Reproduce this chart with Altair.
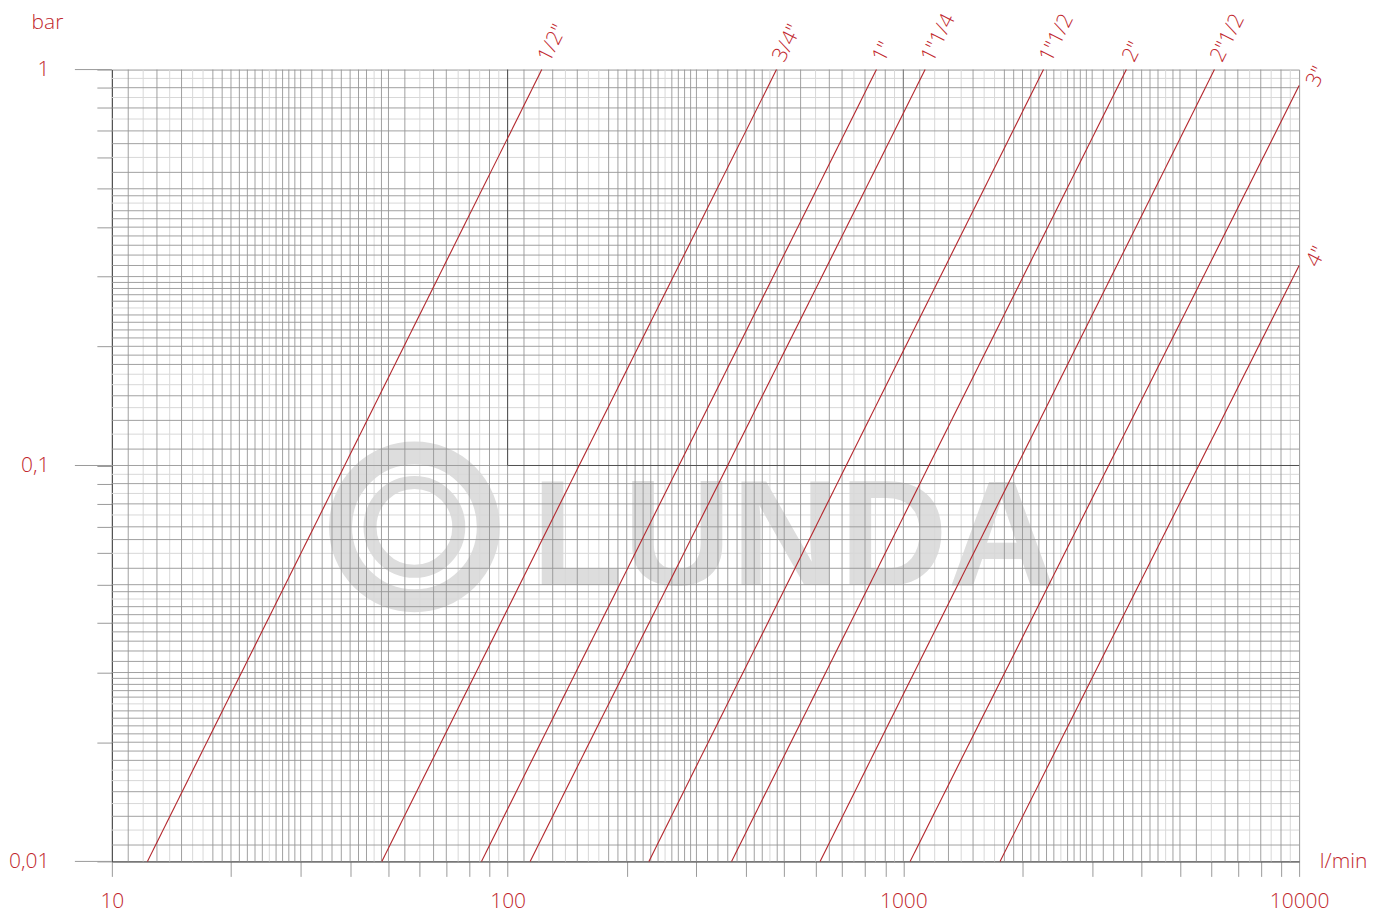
import altair as alt
import pandas as pd

W, H = 1189, 793
RED = "#c1272d"
LINE_RED = "#b3262c"
FONT = "Open Sans"
FW = 300

# ---- data (flow l/min, pressure drop bar) ----
sizes = ['1/2"', '3/4"', '1"', '1"1/4', '1"1/2', '2"', '2"1/2', '3"', '4"']
q_start = [12.3, 48.1, 85.9, 114, 227.5, 368, 616, 1040, 1755]
p_start = [0.01, 0.01, 0.01, 0.01, 0.01, 0.01, 0.01, 0.01, 0.01]
q_end = [122, 478, 855, 1135, 2260, 3660, 6110, 10000, 10000]
p_end = [1, 1, 1, 1, 1, 1, 1, 0.911, 0.32]
label_side = ["top", "top", "top", "top", "top", "top", "top", "right", "right"]

# axis ticks
x_ticks = [10, 20, 30, 40, 50, 60, 70, 80, 90,
           100, 200, 300, 400, 500, 600, 700, 800, 900,
           1000, 2000, 3000, 4000, 5000, 6000, 7000, 8000, 9000, 10000]
y_ticks = [0.01, 0.02, 0.03, 0.04, 0.05, 0.06, 0.07, 0.08, 0.09,
           0.1, 0.2, 0.3, 0.4, 0.5, 0.6, 0.7, 0.8, 0.9, 1]
y_major = [0.01, 0.1, 1]

# log-paper grid mantissas per decade
mant_dark = [1.1, 1.3, 1.5, 1.8, 1.9, 2.0, 2.1, 2.2, 2.3, 2.4, 2.6, 2.7,
             2.8, 2.9, 3.0, 3.2, 3.4, 3.6, 3.8, 4.0, 4.2, 4.4, 4.8, 5.0,
             5.5, 6.5, 7.0, 8.0, 9.0]
mant_light = [1.2, 1.4, 1.6, 1.7, 2.5, 4.6, 6.0, 7.5, 8.5, 9.5]
x_decades = [10, 100, 1000]
y_decades = [0.01, 0.1]

xg_dark = [round(m * d, 6) for d in x_decades for m in mant_dark] + [100, 1000]
xg_light = [round(m * d, 6) for d in x_decades for m in mant_light]
yg_dark = [round(m * d, 6) for d in y_decades for m in mant_dark] + [0.1]
yg_light = [round(m * d, 6) for d in y_decades for m in mant_light]

# ---- tables ----
rows = []
for s, qa, pa, qb, pb in zip(sizes, q_start, p_start, q_end, p_end):
    rows.append({"size": s, "q": qa, "p": pa, "o": 0})
    rows.append({"size": s, "q": qb, "p": pb, "o": 1})
lines_df = pd.DataFrame(rows)
labels_df = pd.DataFrame({"size": sizes, "q": q_end, "p": p_end, "side": label_side})

xs = alt.Scale(type="log", domain=[10, 10000], nice=False)
ys = alt.Scale(type="log", domain=[0.01, 1], nice=False)

one = pd.DataFrame({"a": [0]})
WM = "#dddddd"

# watermark
ring_outer = alt.Chart(one).mark_point(
    shape="circle", filled=False, size=21900, strokeWidth=23, color=WM, opacity=1
).encode(x=alt.value(303), y=alt.value(458))
ring_inner = alt.Chart(one).mark_point(
    shape="circle", filled=False, size=7900, strokeWidth=13, color=WM, opacity=1
).encode(x=alt.value(303), y=alt.value(458))
wm_text = alt.Chart(one).mark_text(
    text="LUNDA", font="Liberation Sans", fontWeight="bold", fontSize=150,
    color=WM, align="center", baseline="alphabetic"
).encode(x=alt.value(683), y=alt.value(516))

# grid
vg_light = alt.Chart(pd.DataFrame({"q": xg_light})).mark_rule(
    color="#d8d8d8", strokeWidth=1).encode(x=alt.X("q:Q", scale=xs))
hg_light = alt.Chart(pd.DataFrame({"p": yg_light})).mark_rule(
    color="#d8d8d8", strokeWidth=1).encode(y=alt.Y("p:Q", scale=ys))
vg_dark = alt.Chart(pd.DataFrame({"q": xg_dark})).mark_rule(
    color="#969696", strokeWidth=0.9).encode(x=alt.X("q:Q", scale=xs))
hg_dark = alt.Chart(pd.DataFrame({"p": yg_dark})).mark_rule(
    color="#969696", strokeWidth=0.9).encode(y=alt.Y("p:Q", scale=ys))

# darker box
box_v = alt.Chart(pd.DataFrame({"q": [100], "p": [0.1], "p2": [1]})).mark_rule(
    color="#505050", strokeWidth=1).encode(
    x=alt.X("q:Q", scale=xs), y=alt.Y("p:Q", scale=ys), y2="p2:Q")
box_v2 = alt.Chart(pd.DataFrame({"q": [1000], "p": [0.1], "p2": [1]})).mark_rule(
    color="#808080", strokeWidth=1).encode(
    x=alt.X("q:Q", scale=xs), y=alt.Y("p:Q", scale=ys), y2="p2:Q")
box_h = alt.Chart(pd.DataFrame({"q": [100], "q2": [10000], "p": [0.1]})).mark_rule(
    color="#505050", strokeWidth=1).encode(
    x=alt.X("q:Q", scale=xs), x2="q2:Q", y=alt.Y("p:Q", scale=ys))

# long ticks at decades on the y axis
major_ticks = alt.Chart(pd.DataFrame({"p": y_major})).mark_rule(
    color="#9a9a9a", strokeWidth=1).encode(
    y=alt.Y("p:Q", scale=ys), x=alt.value(-37), x2=alt.value(0))

# pipe curves
curves = alt.Chart(lines_df).mark_line(color=LINE_RED, strokeWidth=1.1).encode(
    x=alt.X("q:Q", scale=xs,
            axis=alt.Axis(values=x_ticks,
                          labelExpr="(datum.value==10||datum.value==100||datum.value==1000||datum.value==10000) ? datum.value + '' : ''",
                          grid=False, tickSize=15, tickColor="#9a9a9a", domainColor="#444444",
                          labelPadding=14, labelFontSize=21, labelColor=RED, labelFont=FONT,
                          labelFontWeight=FW, labelBaseline="top", labelFlush=False,
                          labelOverlap=False,
                          title="l/min", titleAngle=0, titleX=W + 44, titleY=0,
                          titleAlign="center", titleBaseline="middle", titleFontSize=21,
                          titleFontWeight=FW, titleColor=RED, titleFont=FONT)),
    y=alt.Y("p:Q", scale=ys,
            axis=alt.Axis(values=y_ticks,
                          labelExpr="datum.value==1 ? '1' : (datum.value==0.1 ? '0,1' : (datum.value==0.01 ? '0,01' : ''))",
                          grid=False, tickSize=15, tickColor="#9a9a9a", domainColor="#444444",
                          labelPadding=48, labelFontSize=21, labelColor=RED, labelFont=FONT,
                          labelFontWeight=FW, labelFlush=False, labelOverlap=False,
                          title="bar", titleAngle=0, titleX=-65, titleY=-47,
                          titleAlign="center", titleBaseline="middle", titleFontSize=21,
                          titleFontWeight=FW, titleColor=RED, titleFont=FONT)),
    detail="size:N",
    order="o:Q",
)

labels_top = alt.Chart(labels_df).transform_filter(alt.datum.side == "top").mark_text(
    angle=296.6, align="left", baseline="middle", dx=9, dy=-2, fontSize=21,
    color=RED, font=FONT, fontWeight=FW
).encode(x=alt.X("q:Q", scale=xs), y=alt.Y("p:Q", scale=ys), text="size:N")

labels_right = alt.Chart(labels_df).transform_filter(alt.datum.side == "right").mark_text(
    angle=296.6, align="left", baseline="middle", dx=6, dy=12, fontSize=21,
    color=RED, font=FONT, fontWeight=FW
).encode(x=alt.X("q:Q", scale=xs), y=alt.Y("p:Q", scale=ys), text="size:N")

chart = alt.layer(
    ring_outer, ring_inner, wm_text,
    vg_light, hg_light, vg_dark, hg_dark,
    box_v2, box_v, box_h, major_ticks,
    curves, labels_top, labels_right,
).properties(
    width=W, height=H,
    autosize=alt.AutoSizeParams(type="none"),
    padding={"left": 104, "top": 61, "right": 80, "bottom": 56},
).configure_view(stroke="#999999", strokeWidth=1)

chart.save("out.html", embed_options={"renderer": "svg", "actions": False})
